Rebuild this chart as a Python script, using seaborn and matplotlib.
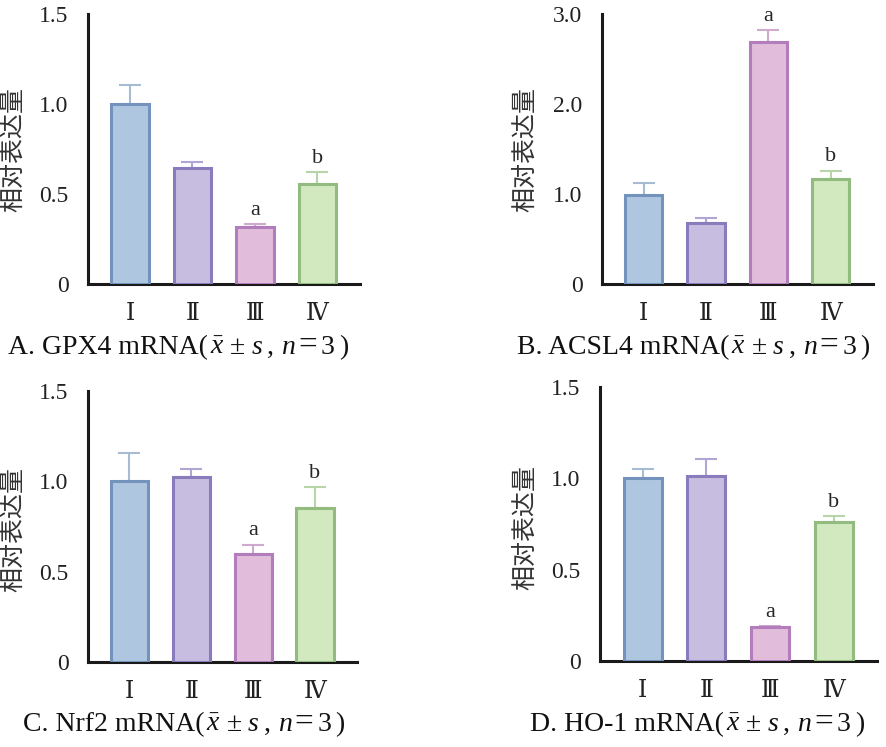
import numpy as np
import pandas as pd
import matplotlib
matplotlib.use('Agg')
import matplotlib.pyplot as plt
import seaborn as sb

groups = ['Ⅰ', 'Ⅱ', 'Ⅲ', 'Ⅳ']

gpx4 = [1.00, 0.645, 0.315, 0.555]
gpx4_err = [0.105, 0.035, 0.02, 0.065]
acsl4 = [0.99, 0.68, 2.69, 1.17]
acsl4_err = [0.13, 0.05, 0.13, 0.09]
nrf2 = [1.00, 1.025, 0.60, 0.855]
nrf2_err = [0.155, 0.045, 0.05, 0.115]
ho1 = [1.00, 1.015, 0.185, 0.76]
ho1_err = [0.05, 0.09, 0.008, 0.035]

# significance letters (group index, letter)
gpx4_sig = [(2, 'a'), (3, 'b')]
acsl4_sig = [(2, 'a'), (3, 'b')]
nrf2_sig = [(2, 'a'), (3, 'b')]
ho1_sig = [(2, 'a'), (3, 'b')]

ylims = [1.5, 3.0, 1.5, 1.5]
yticks = [[0, 0.5, 1.0, 1.5], [0, 1.0, 2.0, 3.0], [0, 0.5, 1.0, 1.5], [0, 0.5, 1.0, 1.5]]
yticklabels = [['0', '0.5', '1.0', '1.5'], ['0', '1.0', '2.0', '3.0'],
               ['0', '0.5', '1.0', '1.5'], ['0', '0.5', '1.0', '1.5']]

captions = [
    ('A. GPX4 mRNA(', 8),
    ('B. ACSL4 mRNA(', 517),
    ('C. Nrf2 mRNA(', 23),
    ('D. HO-1 mRNA(', 530),
]

fills = ['#afc6e0', '#c7bde0', '#e1bddb', '#d2e8bf']
edges = ['#7393bd', '#8a7bbd', '#b37cbd', '#92bb80']
errcols = ['#a7bbd3', '#b0a5d3', '#d0a9cf', '#b7d5a8']

sb.set_style('white')
plt.rcParams['font.family'] = ['Liberation Serif', 'DejaVu Serif', 'Noto Sans CJK SC']
plt.rcParams['mathtext.fontset'] = 'custom'
plt.rcParams['mathtext.rm'] = 'Liberation Serif'
plt.rcParams['mathtext.it'] = 'Liberation Serif:italic'

fig = plt.figure(figsize=(8.87, 7.47), dpi=100)

# axes boxes in figure pixels: left, top, right, bottom
boxes = [(88, 14, 360, 284), (602, 14, 873, 284), (88, 391, 357, 662), (600, 387, 877, 661)]
ylab_pos = [(13, 150), (525, 150), (13, 530), (525, 527)]
cap_y = [354, 354, 731, 731]

panels = [(gpx4, gpx4_err, gpx4_sig), (acsl4, acsl4_err, acsl4_sig),
          (nrf2, nrf2_err, nrf2_sig), (ho1, ho1_err, ho1_sig)]

W, H = 887, 747
for i, (vals, errs, sig) in enumerate(panels):
    l, t, r, b = boxes[i]
    ax = fig.add_axes([l / W, 1 - b / H, (r - l) / W, (b - t) / H])
    df = pd.DataFrame({'group': groups, 'value': vals})
    sb.barplot(data=df, x='group', y='value', hue='group', palette=fills, saturation=1,
               width=0.6, linewidth=2.2, errorbar=None, legend=False, ax=ax, zorder=3)
    for p, ec in zip(ax.patches, edges):
        p.set_edgecolor(ec)
    for k in range(len(groups)):
        ax.errorbar(k, vals[k], yerr=[[0], [errs[k]]], fmt='none', ecolor=errcols[k],
                    elinewidth=1.5, capsize=8, capthick=1.5, zorder=2)
    for k, letter in sig:
        ax.annotate(letter, xy=(k, vals[k] + errs[k]), xytext=(0, 3), textcoords='offset points',
                    ha='center', va='bottom', fontsize=16, family='Liberation Serif')
    ax.set_xlim(-0.67, 3.68)
    ax.set_ylim(0, ylims[i])
    ax.set_yticks(yticks[i])
    ax.set_yticklabels(yticklabels[i])
    ax.set_xlabel('')
    ax.set_ylabel('')
    sb.despine(ax=ax)
    for s in ['left', 'bottom']:
        ax.spines[s].set_linewidth(2.2)
        ax.spines[s].set_color('#1a1a1a')
    ax.tick_params(axis='both', direction='out', width=2.2, color='#1a1a1a',
                   labelsize=17, labelcolor='#222222')
    ax.tick_params(axis='y', length=8, pad=6)
    ax.tick_params(axis='x', length=7, pad=6)
    for lab in ax.get_xticklabels():
        lab.set_family(['DejaVu Serif', 'Noto Sans CJK SC'])
        lab.set_fontsize(17)

    fig.text(ylab_pos[i][0] / W, 1 - ylab_pos[i][1] / H, '相对表达量', rotation=90,
             ha='center', va='center', fontsize=18, family='Noto Sans CJK SC', color='#333333')

    # caption built from pieces: (text, style, size, gap before in px)
    head, x0 = captions[i]
    yb = H - cap_y[i]
    parts = [(head, 'normal', 20, 0), (r'$\bar{x}$', 'normal', 20, 2), ('±', 'normal', 20, 6),
             ('s', 'italic', 20, 6), (',', 'normal', 20, 5), ('n', 'italic', 20, 7),
             ('=', 'normal', 24, 3), ('3', 'normal', 20, 4), (')', 'normal', 20, 4)]
    prev = None
    for txt, style, size, gap in parts:
        if prev is None:
            prev = ax.annotate(txt, xy=(x0, yb), xycoords='figure pixels', ha='left', va='baseline',
                               fontsize=size, style=style, annotation_clip=False, color='#111111')
        else:
            prev = ax.annotate(txt, xy=(1, yb), xycoords=(prev, 'figure pixels'),
                               xytext=(gap, 0), textcoords='offset pixels', ha='left',
                               va='baseline', fontsize=size, style=style, annotation_clip=False,
                               color='#111111')

fig.savefig('out.png', dpi=100)
